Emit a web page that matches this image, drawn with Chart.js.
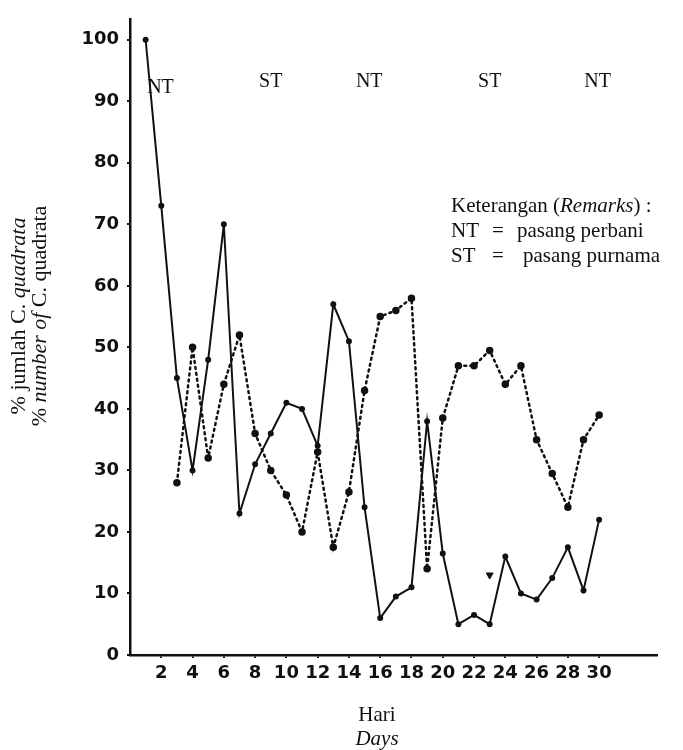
<!DOCTYPE html>
<html>
<head>
<meta charset="utf-8">
<script src="https://cdn.jsdelivr.net/npm/chart.js@4"></script>
<style>
    html, body { margin: 0; padding: 0; background: #fff; }
    #wrap { width: 683px; height: 750px; position: relative; }
</style>
</head>
<body>
<div id="wrap"><canvas id="mycanvas"></canvas></div>
<script>
// days 1..30, % of C. quadrata
const solidDays = [1, 2, 3, 4, 5, 6, 7, 8, 9, 10, 11, 12, 13, 14, 15, 16, 17, 18, 19, 20, 21, 22, 23, 24, 25, 26, 27, 28, 29, 30];
const solidPct = [100, 73, 45, 30, 48, 70, 23, 31, 36, 41, 40, 34, 57, 51, 24, 6, 9.5, 11, 38, 16.5, 5, 6.5, 5, 16, 10, 9, 12.5, 17.5, 10.5, 22];

const dottedDays = [3, 4, 5, 6, 7, 8, 9, 10, 11, 12, 13, 14, 15, 16, 17, 18, 19, 20, 21, 22, 23, 24, 25, 26, 27, 28, 29, 30];
const dottedPct = [28, 50, 32, 44, 52, 36, 30, 26, 20, 33, 17.5, 26.5, 43, 55, 56, 58, 14, 38.5, 47, 47, 49.5, 44, 47, 35, 29.5, 24, 35, 39];

// lone triangle mark
const strayDays = [23];
const strayPct = [13];

const xTicks = [2, 4, 6, 8, 10, 12, 14, 16, 18, 20, 22, 24, 26, 28, 30];
const yTicks = [0, 10, 20, 30, 40, 50, 60, 70, 80, 90, 100];

// tide phase labels along the top
const tideText = ['NT', 'ST', 'NT', 'ST', 'NT'];
const tideDays = [1.95, 9, 15.3, 23, 29.9];
const tideLevel = [92.2, 93.2, 93.2, 93.2, 93.2];

const toPoints = (xs, ys) => xs.map((x, i) => ({ x: x, y: ys[i] }));

const INK = '#111';
const serif = '"Liberation Serif", "DejaVu Serif", serif';

const textPlugin = {
    id: 'texts',
    afterDraw(chart) {
        const ctx = chart.ctx;
        const xs = chart.scales.x, ys = chart.scales.y;
        ctx.save();
        ctx.fillStyle = INK;
        ctx.textBaseline = 'middle';

        // NT / ST
        ctx.font = '20px ' + serif;
        ctx.textAlign = 'center';
        tideText.forEach((t, i) => {
            ctx.fillText(t, xs.getPixelForValue(tideDays[i]), ys.getPixelForValue(tideLevel[i]));
        });

        // remarks block
        ctx.textAlign = 'left';
        const f = '21px ' + serif;
        ctx.font = f;
        let x0 = 451;
        ctx.fillText('Keterangan (', x0, 206);
        let w = ctx.measureText('Keterangan (').width;
        ctx.font = 'italic ' + f;
        ctx.fillText('Remarks', x0 + w, 206);
        w += ctx.measureText('Remarks').width;
        ctx.font = f;
        ctx.fillText(') :', x0 + w, 206);
        ctx.fillText('NT', x0, 231);
        ctx.fillText('=', 492, 231);
        ctx.fillText('pasang perbani', 517, 231);
        ctx.fillText('ST', x0, 256);
        ctx.fillText('=', 492, 256);
        ctx.fillText('pasang purnama', 523, 256);

        // x title
        ctx.textAlign = 'center';
        ctx.font = '21px ' + serif;
        ctx.fillText('Hari', 377, 715);
        ctx.font = 'italic 21px ' + serif;
        ctx.fillText('Days', 377, 739);

        // y title, two rotated lines with mixed styles
        const drawLine = (parts, cx, cy) => {
            let total = 0;
            parts.forEach(p => { ctx.font = p[1] + '22px ' + serif; total += ctx.measureText(p[0]).width; });
            ctx.save();
            ctx.translate(cx, cy);
            ctx.rotate(-Math.PI / 2);
            ctx.textAlign = 'left';
            let pos = -total / 2;
            parts.forEach(p => {
                ctx.font = p[1] + '22px ' + serif;
                ctx.fillText(p[0], pos, 0);
                pos += ctx.measureText(p[0]).width;
            });
            ctx.restore();
        };
        drawLine([['% jumlah C. ', ''], ['quadrata', 'italic ']], 19, 316);
        drawLine([['% ', ''], ['number of ', 'italic '], ['C. quadrata', '']], 40, 316);

        ctx.restore();
    }
};

const mycanvas = document.getElementById('mycanvas').getContext('2d');
const chart = new Chart(mycanvas, {
    type: 'line',
    data: {
        datasets: [
            {
                label: 'solid',
                data: toPoints(solidDays, solidPct),
                borderColor: INK,
                backgroundColor: INK,
                borderWidth: 2,
                pointRadius: 2,
                tension: 0,
            },
            {
                label: 'dotted',
                data: toPoints(dottedDays, dottedPct),
                borderColor: INK,
                backgroundColor: INK,
                borderWidth: 2.5,
                borderDash: [2, 4],
                borderCapStyle: 'round',
                pointRadius: 2.5,
                tension: 0,
            },
            {
                label: 'stray',
                data: toPoints(strayDays, strayPct),
                showLine: false,
                pointStyle: 'triangle',
                rotation: 180,
                pointRadius: 4,
                borderColor: INK,
                backgroundColor: INK,
            }
        ]
    },
    options: {
        responsive: true,
        maintainAspectRatio: false,
        animation: false,
        events: [],
        layout: { padding: { top: 12, right: 26, left: 0, bottom: 0 } },
        plugins: {
            legend: { display: false },
            tooltip: { enabled: false },
        },
        scales: {
            x: {
                type: 'linear',
                min: 0,
                max: 33.7,
                afterBuildTicks: (scale) => { scale.ticks = xTicks.map(v => ({ value: v })); },
                afterFit: (scale) => { scale.height = 95; },
                border: { display: true, color: INK, width: 2.5 },
                grid: { display: true, drawOnChartArea: false, tickLength: 3, color: INK, lineWidth: 2 },
                ticks: {
                    color: INK,
                    padding: 5,
                    maxRotation: 0,
                    autoSkip: false,
                    font: { family: '"DejaVu Sans", sans-serif', size: 18, weight: 'bold' }
                }
            },
            y: {
                min: 0,
                max: 103.4,
                afterBuildTicks: (scale) => { scale.ticks = yTicks.map(v => ({ value: v })); },
                afterFit: (scale) => { scale.width = 130; },
                border: { display: true, color: INK, width: 2.5 },
                grid: { display: true, drawOnChartArea: false, tickLength: 3, color: INK, lineWidth: 2 },
                ticks: {
                    color: INK,
                    padding: 8,
                    font: { family: '"DejaVu Sans", sans-serif', size: 18, weight: 'bold' }
                }
            }
        }
    },
    plugins: [textPlugin]
});
</script>
</body>
</html>
